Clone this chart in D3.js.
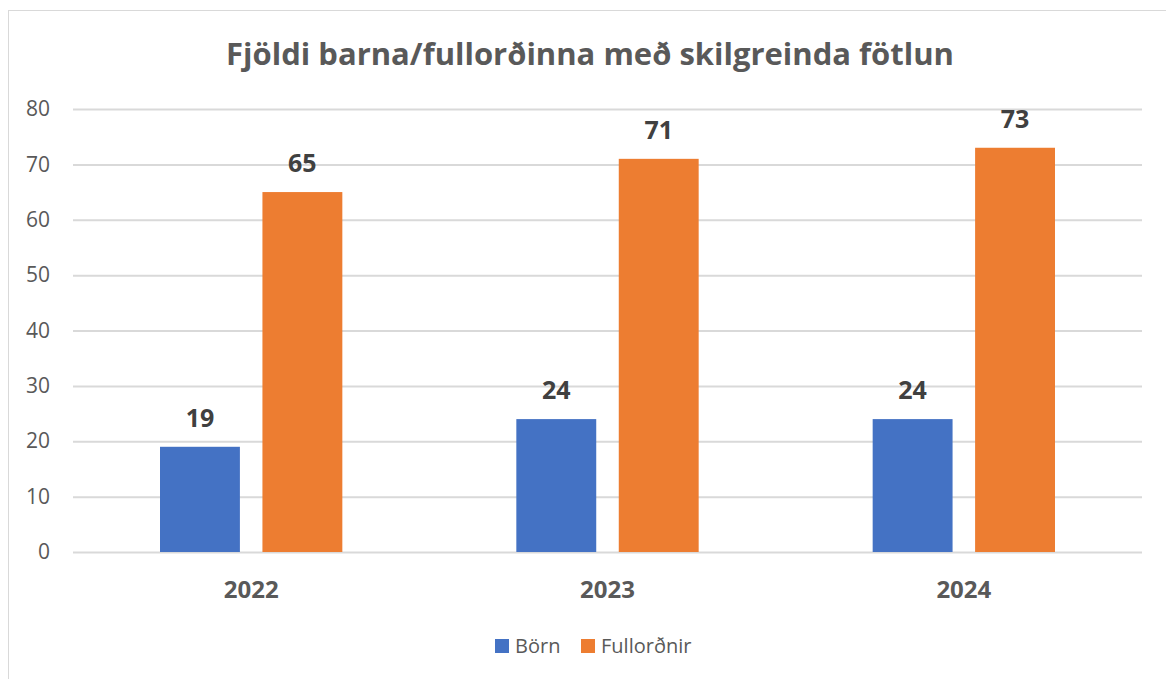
<!DOCTYPE html>
<html>
<head>
<meta charset="utf-8">
<script src="https://cdn.jsdelivr.net/npm/d3@7"></script>
<style>
  body { margin: 0; background: #fff; }
  text { font-family: "Open Sans", "Liberation Sans", sans-serif; }
</style>
</head>
<body>
<svg id="chart" width="1166" height="679"></svg>
<script>
// Data
// ==============================================
var years = ["2022", "2023", "2024"];
var seriesNames = ["Börn", "Fullorðnir"];
var bornValues = [19, 24, 24];
var fullordnirValues = [65, 71, 73];
var yTicks = [0, 10, 20, 30, 40, 50, 60, 70, 80];
var colors = ["#4472C4", "#ED7D31"];

var svg = d3.select("#chart");

// chart border
svg.append("rect")
	.attr("x", 8.5).attr("y", 10.5)
	.attr("width", 1170).attr("height", 700)
	.attr("fill", "#fff")
	.attr("stroke", "#D9D9D9");

var plotLeft = 73, plotRight = 1142, plotTop = 109, plotBottom = 552;

var x = d3.scaleBand().domain(years).range([plotLeft, plotRight]).paddingInner(0).paddingOuter(0);
var x1 = d3.scaleBand().domain(seriesNames).range([87, x.bandwidth() - 87]).paddingInner(0.22);
var y = d3.scaleLinear().domain([0, 80]).range([plotBottom, plotTop]);

// Title
svg.append("text")
	.attr("x", 590).attr("y", 65)
	.attr("text-anchor", "middle")
	.attr("font-size", 31).attr("font-weight", "bold")
	.attr("fill", "#595959")
	.text("Fjöldi barna/fullorðinna með skilgreinda fötlun");

// Gridlines + y axis
var yAxis = d3.axisLeft(y).tickValues(yTicks).tickSize(-(plotRight - plotLeft)).tickPadding(23);
var gy = svg.append("g").attr("transform", "translate(" + plotLeft + ",0)").call(yAxis);
gy.select(".domain").remove();
gy.selectAll(".tick line").attr("stroke", "#D9D9D9").attr("stroke-width", 2);
gy.selectAll(".tick text").attr("font-size", 21).attr("fill", "#595959");

// x axis
var xAxis = d3.axisBottom(x).tickSize(0).tickPadding(29);
var gx = svg.append("g").attr("transform", "translate(0," + plotBottom + ")").call(xAxis);
gx.select(".domain").remove();
gx.selectAll(".tick text").attr("font-size", 24).attr("font-weight", "bold").attr("fill", "#595959");

// Bars
// ==============================================
var rows = years.map(function(yr, i){
	return { year: yr, values: [bornValues[i], fullordnirValues[i]] };
});

var groups = svg.selectAll("g.year").data(rows).enter().append("g")
	.attr("class", "year")
	.attr("transform", function(d){ return "translate(" + x(d.year) + ",0)"; });

groups.selectAll("rect").data(function(d){ return d.values; }).enter().append("rect")
	.attr("x", function(d, i){ return x1(seriesNames[i]); })
	.attr("y", function(d){ return y(d); })
	.attr("width", x1.bandwidth())
	.attr("height", function(d){ return y(0) - y(d); })
	.attr("fill", function(d, i){ return colors[i]; });

groups.selectAll("text.val").data(function(d){ return d.values; }).enter().append("text")
	.attr("class", "val")
	.attr("x", function(d, i){ return x1(seriesNames[i]) + x1.bandwidth() / 2; })
	.attr("y", function(d){ return y(d) - 20; })
	.attr("text-anchor", "middle")
	.attr("font-size", 25).attr("font-weight", "bold")
	.attr("fill", "#404040")
	.text(function(d){ return d; });

// Legend
// ==============================================
var legend = svg.append("g");
var legendX = [495, 581];
seriesNames.forEach(function(name, i){
	legend.append("rect")
		.attr("x", legendX[i]).attr("y", 639)
		.attr("width", 14).attr("height", 14)
		.attr("fill", colors[i]);
	legend.append("text")
		.attr("x", legendX[i] + 20).attr("y", 653)
		.attr("font-size", 20).attr("fill", "#595959")
		.text(name);
});
</script>
</body>
</html>
